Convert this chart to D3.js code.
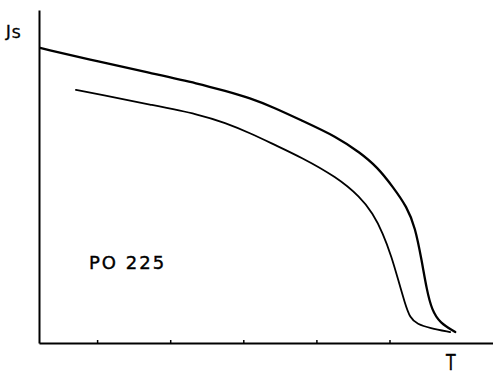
<!DOCTYPE html>
<html>
<head>
<meta charset="utf-8">
<script src="https://cdn.jsdelivr.net/npm/d3@7"></script>
<style>
html,body{margin:0;padding:0;background:#fff;}
svg{display:block;}
text{font-family:"DejaVu Sans","Liberation Sans",sans-serif;fill:#000;stroke:#000;stroke-width:0.4px;}
</style>
</head>
<body>
<svg id="chart" width="493" height="382"></svg>
<script>
// Temperature ticks (unlabelled in the original)
const tickValues = [1, 2, 3, 4, 5];

// Upper curve: T and Js
const upperT  = [0.22, 1.04, 1.72, 2.41, 2.75, 3.09, 3.43, 3.78, 4.28, 4.60, 4.83, 5.05, 5.24, 5.35, 5.44, 5.51, 5.58, 5.69, 5.90];
const upperJs = [0.886, 0.844, 0.811, 0.778, 0.757, 0.736, 0.706, 0.670, 0.619, 0.571, 0.529, 0.468, 0.408, 0.348, 0.249, 0.159, 0.099, 0.060, 0.033];

// Lower curve
const lowerT  = [0.71, 1.04, 1.72, 2.41, 2.75, 3.09, 3.43, 3.78, 4.28, 4.60, 4.77, 4.91, 5.03, 5.12, 5.21, 5.28, 5.38, 5.55, 5.83];
const lowerJs = [0.760, 0.746, 0.716, 0.686, 0.661, 0.631, 0.595, 0.559, 0.498, 0.438, 0.390, 0.330, 0.258, 0.189, 0.120, 0.075, 0.057, 0.045, 0.033];

const sampleLabel = "PO 225";

const svg = d3.select("#chart");
const x = d3.scaleLinear().domain([0.205, 6.416]).range([39, 493]);
const y = d3.scaleLinear().domain([0, 1]).range([343, 10]);

// X axis with small upward ticks, no labels
const xAxis = d3.axisBottom(x).tickValues(tickValues).tickSize(-3).tickSizeOuter(0).tickFormat("");
const gx = svg.append("g").attr("transform", `translate(0,${y(0)})`).call(xAxis);
gx.select(".domain").attr("stroke", "#000").attr("stroke-width", 2);
gx.selectAll(".tick line").attr("stroke", "#000").attr("stroke-width", 1.5);

// Y axis, no ticks
const yAxis = d3.axisLeft(y).tickValues([]).tickSizeOuter(0);
const gy = svg.append("g").attr("transform", `translate(${x(0.205)},0)`).call(yAxis);
gy.select(".domain").attr("stroke", "#000").attr("stroke-width", 2);

const line = d3.line().x(d => x(d[0])).y(d => y(d[1])).curve(d3.curveBasis);

svg.append("path")
  .attr("d", line(upperT.map((t, i) => [t, upperJs[i]])))
  .attr("fill", "none").attr("stroke", "#000").attr("stroke-width", 2.3)
  .attr("stroke-linecap", "round");

svg.append("path")
  .attr("d", line(lowerT.map((t, i) => [t, lowerJs[i]])))
  .attr("fill", "none").attr("stroke", "#000").attr("stroke-width", 1.8)
  .attr("stroke-linecap", "round");

// Labels
const js = svg.append("text").attr("x", 6).attr("y", 37).style("font-size", "16px");
js.append("tspan").text("J");
js.append("tspan").attr("dy", 1).attr("dx", 1).style("font-size", "14px").text("S");

svg.append("text").attr("x", 446).attr("y", 370).style("font-size", "21px")
  .attr("transform", "translate(446,370) scale(0.75,1) translate(-446,-370)").text("T");

svg.append("text").attr("x", 89).attr("y", 269).style("font-size", "18px")
  .style("letter-spacing", "2px").text(sampleLabel);
</script>
</body>
</html>
